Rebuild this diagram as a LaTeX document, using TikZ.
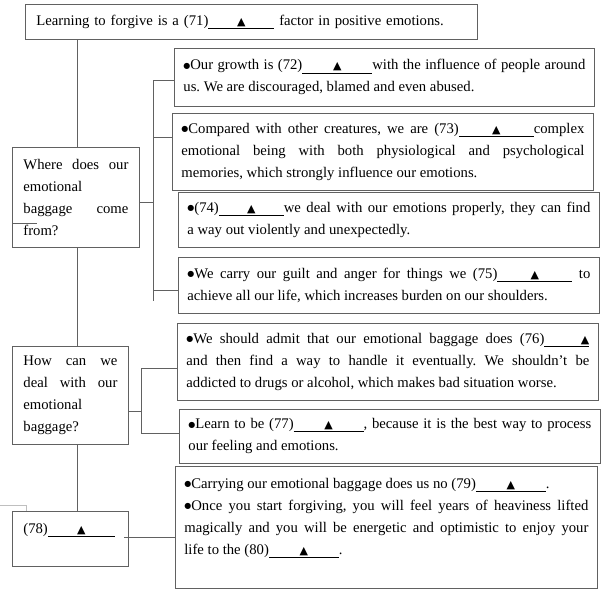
\documentclass[tikz,border=0pt]{standalone}
\usepackage{fontspec}
\setmainfont{Liberation Serif}
\newfontfamily\symfont{DejaVu Sans}
\usetikzlibrary{calc}
\hyphenpenalty=10000
\exhyphenpenalty=10000
\frenchspacing
\definecolor{linec}{gray}{0.38}
\newcommand\mytri{{\symfont\fontsize{11pt}{11pt}\selectfont ▲}}
\newcommand\mybul{\raisebox{1.8pt}{\symfont\fontsize{8pt}{8pt}\selectfont ●}}
\newcommand\myblank[2][c]{\underline{\makebox[#2pt][#1]{\mytri}}}
\newcommand\txtsz{\fontsize{14.7pt}{22pt}\selectfont\parindent=0pt\frenchspacing\relax}
\tikzset{
  frame/.style={draw=linec, line width=0.8pt, anchor=north west, inner ysep=0pt,
    inner xsep=9pt, align=justify, font=\txtsz, text=black},
  lframe/.style={frame, inner xsep=11pt},
  conn/.style={draw=linec, line width=0.8pt},
}
\begin{document}
\begin{tikzpicture}[x=1pt, y=-1pt]
\useasboundingbox (0,0) rectangle (603,598);

% top box
\node[lframe, align=left, text width=430pt, minimum height=35pt] (top) at (25,4)
  {Learning to forgive is a (71)\myblank{66} factor in positive emotions.};

% left boxes
\node[lframe, text width=105pt, minimum height=100pt] (b1) at (12,147)
  {Where does our\break emotional\hfil\break baggage come\break from?};
\node[lframe, text width=94pt, minimum height=98pt] (b2) at (12,346)
  {How can we\break deal with our\break emotional\hfil\break baggage?};
\node[lframe, align=left, text width=94pt, minimum height=55pt] (b78) at (12,511)
  {(78)\myblank{67}\par\mbox{}};

% right boxes
\node[frame, text width=402pt, minimum height=58pt] (b72) at (174,48)
  {\mybul Our growth is (72)\myblank{70}with the influence of people around\break
   us. We are discouraged, blamed and even abused.};
\node[frame, text width=403pt, minimum height=77pt] (b73) at (172,113)
  {\mybul Compared with other creatures, we are (73)\myblank{75}complex\break
   emotional being with both physiological and psychological\break
   memories, which strongly influence our emotions.};
\node[frame, text width=403pt, minimum height=55pt] (b74) at (178,192)
  {\mybul(74)\myblank{65}we deal with our emotions properly, they can find\break
   a way out violently and unexpectedly.};
\node[frame, text width=403pt, minimum height=56pt] (b75) at (178,257)
  {\mybul We carry our guilt and anger for things we (75)\myblank{75} to\break
   achieve all our life, which increases burden on our shoulders.};
\node[frame, text width=403pt, minimum height=77pt] (b76) at (177,323)
  {\mybul We should admit that our emotional baggage does (76)\myblank[r]{45}\break
   and then find a way to handle it eventually. We shouldn’t be\break
   addicted to drugs or alcohol, which makes bad situation worse.};
\node[frame, text width=403pt, minimum height=54pt] (b77) at (179,409)
  {\mybul Learn to be (77)\myblank{70}, because it is the best way to process\break
   our feeling and emotions.};
\node[frame, text width=404pt, minimum height=122pt] (b79) at (175,466)
  {\mybul Carrying our emotional baggage does us no (79)\myblank{70}.\par
   \mybul Once you start forgiving, you will feel years of heaviness lifted\break
   magically and you will be energetic and optimistic to enjoy your\break
   life to the (80)\myblank{70}.\par\mbox{}};

% spine
\coordinate (spine) at (77,0);
\draw[conn] (top.south -| spine) -- (b1.north -| spine);
\draw[conn] (b1.south -| spine) -- (b2.north -| spine);
\draw[conn] (b2.south -| spine) -- (b78.north -| spine);

% group 1
\coordinate (j72) at (153,80);
\coordinate (j73) at (153,137);
\coordinate (j1) at (153,202);
\coordinate (j75) at (153,290);
\coordinate (bus1end) at (153,301);
\draw[conn] (j72) -- (bus1end);
\draw[conn] (j72) -- (b72.west |- j72);
\draw[conn] (j73) -- (b73.west |- j73);
\draw[conn] (b1.east |- j1) -- (j1);
\draw[conn] (j75) -- (b75.west |- j75);

% group 2
\coordinate (j76) at (141,368);
\coordinate (j2) at (141,411);
\coordinate (j77) at (141,433);
\draw[conn] (j76) -- (j77);
\draw[conn] (j76) -- (b76.west |- j76);
\draw[conn] (b2.east |- j2) -- (j2);
\draw[conn] (j77) -- (b77.west |- j77);

% group 3
\coordinate (j78) at (124,537);
\draw[conn] (j78) -- (b79.west |- j78);

% stray marks
\draw[conn] (12,223) -- (37,223);
\draw[draw=black!25, line width=0.6pt] (0,505) -- (26,505) -- (26,511);
\end{tikzpicture}
\end{document}
